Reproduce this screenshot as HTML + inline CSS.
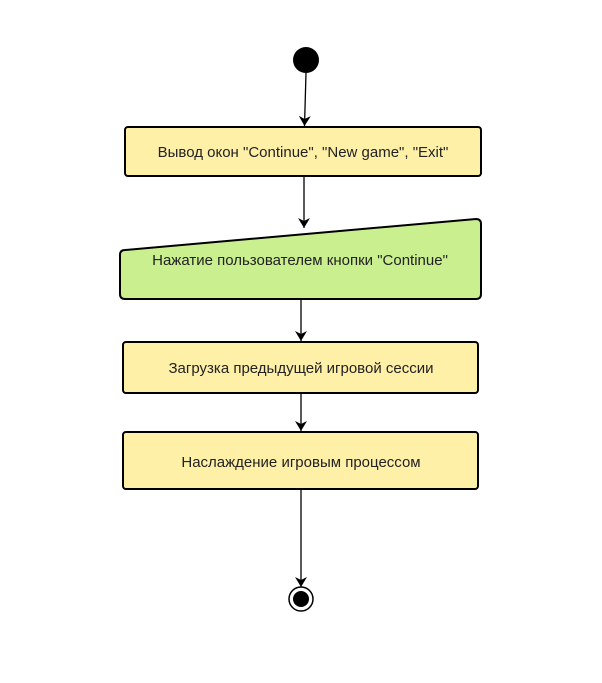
<!DOCTYPE html>
<html><head><meta charset="utf-8"><style>
html,body{margin:0;padding:0;background:#fff;}
svg{display:block;}
text{font-family:"Liberation Sans",Arial,sans-serif;font-size:15px;fill:#222;}
</style></head><body>
<svg width="602" height="683" viewBox="0 0 602 683" xmlns="http://www.w3.org/2000/svg">
<defs><marker id="a" markerWidth="12" markerHeight="12" refX="10" refY="6" orient="auto" markerUnits="userSpaceOnUse"><path d="M0,0 L10,6 L0,12 L3,6 Z" fill="#000"/></marker></defs>
<circle cx="306" cy="60" r="13" fill="#000"/>
<line x1="306" y1="73" x2="304.5" y2="126" stroke="#000" stroke-width="1.3" marker-end="url(#a)"/>
<rect x="125" y="127" width="356" height="49" rx="3" fill="#fff0a8" stroke="#000" stroke-width="2"/>
<text x="303" y="157" text-anchor="middle">Вывод окон "Continue", "New game", "Exit"</text>
<line x1="304" y1="176" x2="304" y2="228" stroke="#000" stroke-width="1.3" marker-end="url(#a)"/>
<path d="M125,250 L476,219 Q481,219 481,224 L481,294 Q481,299 476,299 L125,299 Q120,299 120,294 L120,255 Q120,250 125,250 Z" fill="#c9ef8f" stroke="#000" stroke-width="2"/>
<text x="300" y="265" text-anchor="middle">Нажатие пользователем кнопки "Continue"</text>
<line x1="301" y1="299" x2="301" y2="341" stroke="#000" stroke-width="1.3" marker-end="url(#a)"/>
<rect x="123" y="342" width="355" height="51" rx="3" fill="#fff0a8" stroke="#000" stroke-width="2"/>
<text x="301" y="373" text-anchor="middle">Загрузка предыдущей игровой сессии</text>
<line x1="301" y1="393" x2="301" y2="431" stroke="#000" stroke-width="1.3" marker-end="url(#a)"/>
<rect x="123" y="432" width="355" height="57" rx="3" fill="#fff0a8" stroke="#000" stroke-width="2"/>
<text x="301" y="467" text-anchor="middle">Наслаждение игровым процессом</text>
<line x1="301" y1="489" x2="301" y2="587" stroke="#000" stroke-width="1.3" marker-end="url(#a)"/>
<circle cx="301" cy="599" r="12" fill="#fff" stroke="#000" stroke-width="1.5"/>
<circle cx="301" cy="599" r="8" fill="#000"/>
</svg>
</body></html>
